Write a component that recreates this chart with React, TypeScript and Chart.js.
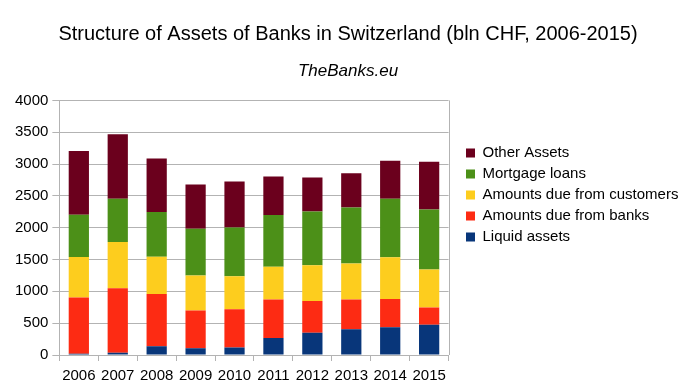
import React, { useEffect, useRef } from "react";
import { Chart, registerables } from "chart.js";

Chart.register(...registerables);

const years = ["2006", "2007", "2008", "2009", "2010", "2011", "2012", "2013", "2014", "2015"];
const liquidAssets = [20, 37, 137, 105, 116, 269, 348, 406, 437, 474];
const dueFromBanks = [885, 1012, 822, 596, 601, 601, 500, 464, 443, 274];
const dueFromCustomers = [635, 727, 585, 548, 521, 516, 564, 569, 654, 596];
const mortgageLoans = [665, 680, 701, 733, 765, 812, 844, 880, 922, 943];
const otherAssets = [1000, 1012, 843, 695, 722, 606, 532, 537, 595, 749];
const yTicks = [0, 500, 1000, 1500, 2000, 2500, 3000, 3500, 4000];

const FONT = "'Liberation Sans', Arial, sans-serif";

const frameAndLegend = {
  id: "frameAndLegend",
  afterLayout(chart: any) {
    const l = chart.legend;
    if (l) {
      const w = l.right - l.left;
      l.top = 0;
      l.bottom = chart.height;
      l.height = chart.height;
      l.left = 460;
      l.right = 460 + w;
    }
    for (const b of chart.boxes) {
      if (b === chart.titleBlock || (b.options && b.options.text === "TheBanks.eu")) {
        b.left = 3;
        b.right = 693;
        b.width = 690;
      }
    }
  },
  beforeDatasetsDraw(chart: any) {
    const { ctx, chartArea } = chart;
    ctx.save();
    ctx.strokeStyle = "#b3b3b3";
    ctx.lineWidth = 1;
    ctx.beginPath();
    const x = Math.round(chartArea.right) + 0.5;
    ctx.moveTo(x, chartArea.top);
    ctx.lineTo(x, chartArea.bottom);
    ctx.stroke();
    ctx.restore();
  },
};

export default function App() {
  const ref = useRef<HTMLCanvasElement>(null);
  useEffect(() => {
    const ds = (label: string, data: number[], color: string) => ({
      label,
      data,
      backgroundColor: color,
      borderWidth: 0,
      barPercentage: 0.52,
      categoryPercentage: 1,
    });
    const chart = new Chart(ref.current!, {
      type: "bar",
      data: {
        labels: years,
        datasets: [
          ds("Liquid assets", liquidAssets, "#08367a"),
          ds("Amounts due from banks", dueFromBanks, "#fd2b13"),
          ds("Amounts due from customers", dueFromCustomers, "#fdcd1e"),
          ds("Mortgage loans", mortgageLoans, "#4c9018"),
          ds("Other Assets", otherAssets, "#6b001d"),
        ],
      },
      options: {
        responsive: false,
        animation: false,
        layout: { padding: { left: 11, right: 16, bottom: -1, top: 0 } },
        plugins: {
          title: {
            display: true,
            text: "Structure of Assets of Banks in Switzerland (bln CHF, 2006-2015)",
            color: "#000",
            font: { family: FONT, size: 20, weight: "normal" },
            padding: { top: 22, bottom: 8 },
          },
          subtitle: {
            display: true,
            text: "TheBanks.eu",
            color: "#000",
            font: { family: FONT, size: 17, style: "italic", weight: "normal" },
            padding: { top: 7, bottom: 19 },
          },
          legend: {
            position: "right",
            reverse: true,
            maxWidth: 320,
            labels: {
              color: "#000",
              font: { family: FONT, size: 15 },
              boxWidth: 9,
              boxHeight: 9,
              padding: 6,
            },
          },
          tooltip: { enabled: false },
        },
        scales: {
          x: {
            stacked: true,
            grid: {
              display: true,
              drawOnChartArea: false,
              drawTicks: true,
              tickLength: 6,
              color: "#b3b3b3",
              offset: true,
            },
            border: { color: "#b3b3b3" },
            ticks: {
              color: "#000",
              font: { family: FONT, size: 15 },
              padding: 6,
              maxRotation: 0,
            },
          },
          y: {
            stacked: true,
            min: 0,
            max: 4000,
            afterBuildTicks: (axis: any) => {
              axis.ticks = yTicks.map((v) => ({ value: v }));
            },
            grid: { color: "#b3b3b3", tickLength: 7 },
            border: { color: "#b3b3b3" },
            ticks: {
              color: "#000",
              font: { family: FONT, size: 15 },
              padding: 4,
              callback: (v: any) => String(v),
            },
          },
        },
      },
      plugins: [frameAndLegend],
    } as any);
    return () => chart.destroy();
  }, []);
  return (
    <div style={{ position: "fixed", left: 0, top: 0, width: 693, height: 390, background: "#fff" }}>
      <canvas ref={ref} width={693} height={390} />
    </div>
  );
}
